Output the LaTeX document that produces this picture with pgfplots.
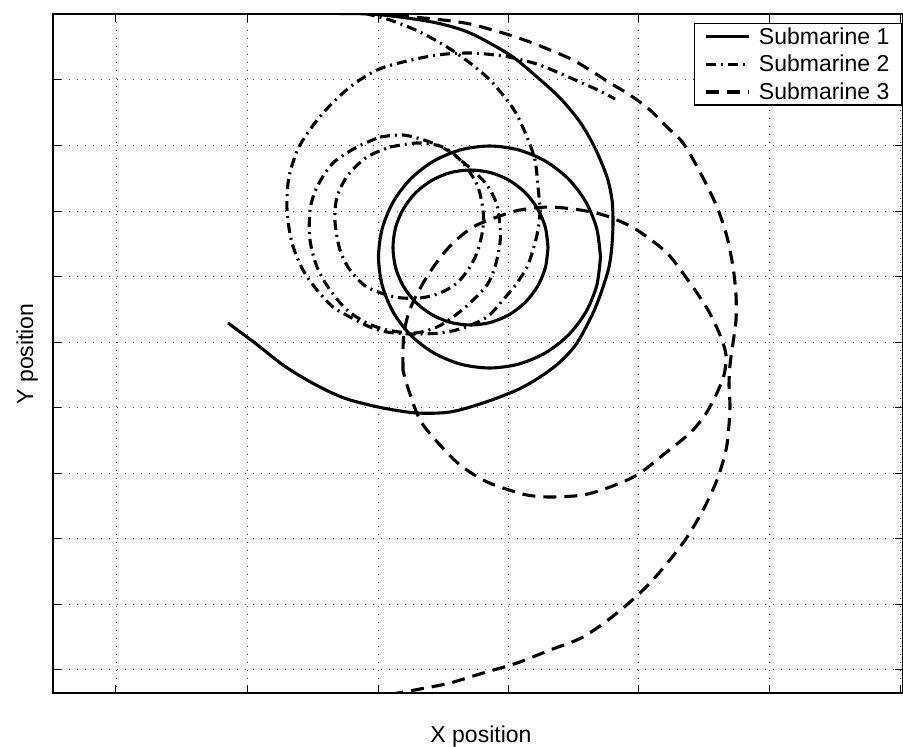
\documentclass[border=0pt]{standalone}
\usepackage{fontspec}
\setmainfont{Liberation Sans}
\usepackage{pgfplots}
\pgfplotsset{compat=1.18}
\pgfplotsset{
  subone/.style={black, line width=3.1pt, solid, smooth},
  subtwo/.style={black, line width=3.1pt, dash pattern=on 10pt off 5pt on 2pt off 5pt, smooth},
  subthree/.style={black, line width=3.1pt, dash pattern=on 13pt off 8pt, smooth},
}
\begin{document}
\begin{tikzpicture}
\path[use as bounding box] (-53pt,-54pt) rectangle (850pt,693pt);
\begin{axis}[
  at={(0pt,0pt)}, anchor=south west,
  scale only axis, width=850pt, height=679pt,
  xmin=53, xmax=903, ymin=14, ymax=693, y dir=reverse,
  xtick={116,247,378,508,638,769,900},
  ytick={79,145,211,276,342,407,473,538,604,669},
  xticklabels={}, yticklabels={},
  tick align=inside, major tick length=8pt,
  tick style={black, line width=1pt},
  grid=major,
  major grid style={black!75, line width=0.9pt, dash pattern=on 0.9pt off 7.1pt},
  axis line style={black, line width=1.5pt},
  label style={font=\fontsize{23}{27.6}\selectfont},
  xlabel={X position}, ylabel={Y position},
  xlabel style={at={(axis description cs:0.5035,-0.0722)}, anchor=base},
  ylabel style={at={(axis description cs:-0.0235,0.4993)}, anchor=base},
  legend style={at={(0.9988,0.98675)}, anchor=north east, draw=black, line width=1.2pt,
    inner xsep=10pt, inner ysep=2pt, row sep=5.5pt, column sep=6pt, cells={anchor=west},
    font=\fontsize{23}{27.6}\selectfont},
  legend image code/.code={\draw[#1, line width=3.1pt] (0pt,0pt) -- (43pt,0pt);},
]
% Submarine 1 (solid)
\addplot[subone] coordinates {
(340,13.5) (370,14) (400,17) (437,23) (470,33) (510,55) (537,77) (560,98) (580,122) (595,148)
(607,177) (612,200) (613,222) (612,245) (609,267) (602,290) (593,313) (577,343) (560,362) (540,377)
(517,390) (483,403) (450,412) (417,413) (383,408) (350,400) (330,392) (307,380) (283,365) (255,343) (228,323)
};
\addlegendentry{Submarine 1}
% Submarine 2 (dash-dot)
\addplot[subtwo] coordinates {
(365,13.5) (390,20) (420,32) (447,47) (470,63) (490,80) (507,100) (517,115) (527,137) (535,160)
(538,187) (540,210) (538,230) (533,250) (527,267) (517,283) (503,300) (487,317) (463,328) (440,333)
(410,334) (387,332) (370,327) (350,317) (333,307) (317,290) (303,270) (292,243) (287,210) (289,177)
(300,145) (323,113) (350,87) (377,70) (403,62) (437,55) (470,53) (503,56) (530,62) (545,67)
(573,79) (600,91) (615,99)
};
\addlegendentry{Submarine 2}
% Submarine 3 (dashed)
\addplot[subthree] coordinates {
(375,13.5) (413,17) (443,20) (470,24) (503,33) (530,42) (550,50) (573,60) (593,72) (610,83)
(630,95) (650,110) (667,127) (683,143) (700,172) (717,207) (727,237) (733,267) (736,295) (736,320)
(733,343) (730,365) (729,385) (730,405) (729,425) (726,450) (717,480) (703,510) (683,543) (650,583)
(617,613) (583,637) (550,650) (517,663) (483,673) (450,683) (420,689) (398,693) (360,699)
};
\addlegendentry{Submarine 3}
% Submarine 1 loops
\addplot[subone, forget plot] coordinates {
(600.5,257) (596.7,285.7) (585.6,312.5) (568,335.5) (545,353.1) (518.2,364.2) (489.5,368)
(460.8,364.2) (434,353.1) (411,335.5) (393.4,312.5) (382.3,285.7) (378.5,257) (382.3,228.3)
(393.4,201.5) (411,178.5) (434,160.9) (460.8,149.8) (489.5,146) (518.2,149.8) (545,160.9)
(568,178.5) (585.6,201.5) (596.7,228.3) (600.5,257)
};
\addplot[subone, forget plot] coordinates {
(548,247.5) (545.4,267.6) (537.6,286.3) (525.3,302.3) (509.3,314.6) (490.6,322.4) (470.5,325)
(450.4,322.4) (431.8,314.6) (415.7,302.3) (403.4,286.3) (395.6,267.6) (393,247.5) (395.6,227.4)
(403.4,208.8) (415.7,192.7) (431.8,180.4) (450.4,172.6) (470.5,170) (490.6,172.6) (509.3,180.4)
(525.3,192.7) (537.6,208.8) (545.4,227.4) (548,247.5)
};
% Submarine 2 loops
\addplot[subtwo, forget plot] coordinates {
(380,137) (403,135) (427,141) (447,150) (470,168) (487,185) (497,205) (500,227) (500,243) (495,267)
(487,285) (470,303) (453,317) (437,327) (415,333) (387,330) (367,323) (347,310) (330,290) (317,267)
(310,240) (310,210) (317,187) (333,163) (357,147) (380,137)
};
\addplot[subtwo, forget plot] coordinates {
(390,147) (417,143) (440,146) (455,155) (467,168) (478,187) (483,210) (483,228) (478,250) (470,267)
(457,283) (440,293) (420,298) (395,297) (367,287) (350,270) (340,250) (335,222) (337,197) (348,175)
(367,157) (390,147)
};
% Submarine 3 loop
\addplot[subthree, forget plot] coordinates {
(403,370) (403,350) (404,333) (408,315) (414,300) (422,285) (430,272) (440,258) (453,243) (473,227)
(497,217) (520,210) (550,207) (580,210) (600,214) (617,220) (637,230) (667,253) (690,283) (708,310)
(720,335) (726,355) (724,375) (716,395) (705,415) (690,433) (663,455) (637,475) (610,487) (583,495)
(550,497) (527,495) (503,488) (483,480) (460,465) (440,445) (420,420) (407,385) (403,370)
};
\end{axis}
\end{tikzpicture}
\end{document}
